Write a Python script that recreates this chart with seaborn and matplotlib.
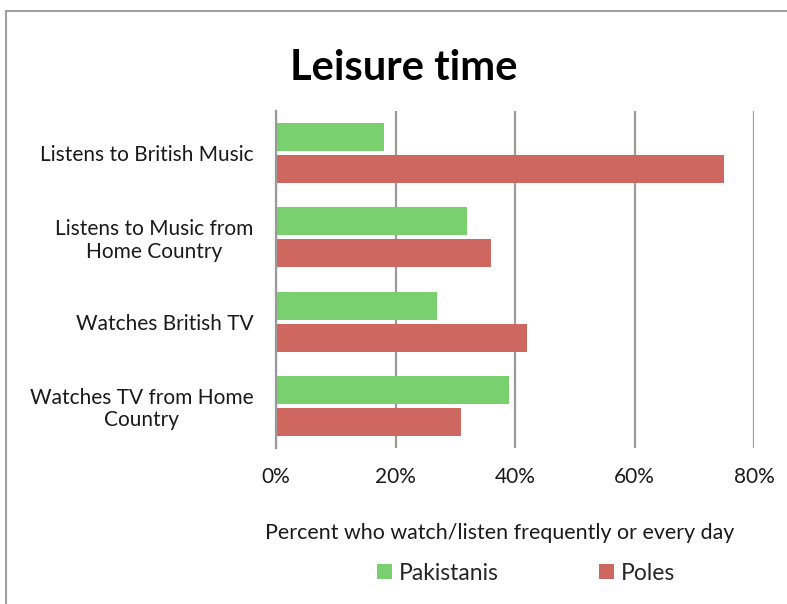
import matplotlib
matplotlib.use("Agg")
import matplotlib.pyplot as plt
from matplotlib.lines import Line2D
from matplotlib.patches import Patch
import seaborn as sns
import pandas as pd

categories = [
    "Listens to British Music",
    "Listens to Music from\nHome Country",
    "Watches British TV",
    "Watches TV from Home\nCountry",
]
pakistanis = [18, 32, 27, 39]
poles = [75, 36, 42, 31]
series_names = ["Pakistanis", "Poles"]
colors = ["#7ACF6E", "#CD6760"]
x_ticks = [0, 20, 40, 60, 80]

df = pd.DataFrame({
    "activity": categories * 2,
    "group": [series_names[0]] * 4 + [series_names[1]] * 4,
    "pct": pakistanis + poles,
})

sns.set_theme(style="white")
plt.rcParams["font.family"] = ["Lato", "DejaVu Sans"]

fig = plt.figure(figsize=(7.87, 6.04), dpi=100)
ax = fig.add_axes([276 / 787, 1 - 448 / 604, (754 - 276) / 787, (448 - 111) / 604])

sns.barplot(
    data=df, y="activity", x="pct", hue="group", order=categories,
    hue_order=series_names, palette=colors, width=0.76, gap=0.125,
    orient="h", ax=ax, legend=False, saturation=1, linewidth=0,
)

ax.set_xlim(0, 80)
ax.set_xticks(x_ticks)
ax.set_xticklabels([f"{t}%" for t in x_ticks])
ax.xaxis.grid(True, color="#9A9A9A", linewidth=1.6)
ax.set_axisbelow(True)
for s in ["top", "right", "bottom"]:
    ax.spines[s].set_visible(False)
ax.spines["left"].set_color("#9A9A9A")
ax.spines["left"].set_linewidth(1.6)
ax.tick_params(axis="both", length=0, labelsize=15, colors="#1a1a1a")
ax.tick_params(axis="x", pad=14)
ax.tick_params(axis="y", pad=16)
for lbl in ax.get_yticklabels():
    lbl.set_multialignment("center")
    lbl.set_linespacing(1.15)
ax.set_ylabel("")
ax.set_xlabel("")

fig.text(500 / 787, 1 - 533 / 604, "Percent who watch/listen frequently or every day",
         ha="center", va="center", fontsize=15.4, color="#1a1a1a")
fig.text(404 / 787, 1 - 68 / 604, "Leisure time", ha="center", va="center",
         fontsize=30, fontweight="bold", color="black")

handles = [Patch(facecolor=c, edgecolor="none") for c in colors]
fig.legend(handles, series_names, loc="center", bbox_to_anchor=(526 / 787, 1 - 573 / 604),
           ncol=2, frameon=False, fontsize=16.5, handlelength=0.65, handleheight=0.65,
           handletextpad=0.3, columnspacing=4.4)

# chart frame
fig.add_artist(Line2D([6 / 787, 1], [1 - 11 / 604] * 2, color="#A0A0A0", lw=1.5,
                      transform=fig.transFigure))
fig.add_artist(Line2D([6 / 787] * 2, [0, 1 - 11 / 604], color="#A0A0A0", lw=1.5,
                      transform=fig.transFigure))

fig.savefig("out.png", dpi=100)
